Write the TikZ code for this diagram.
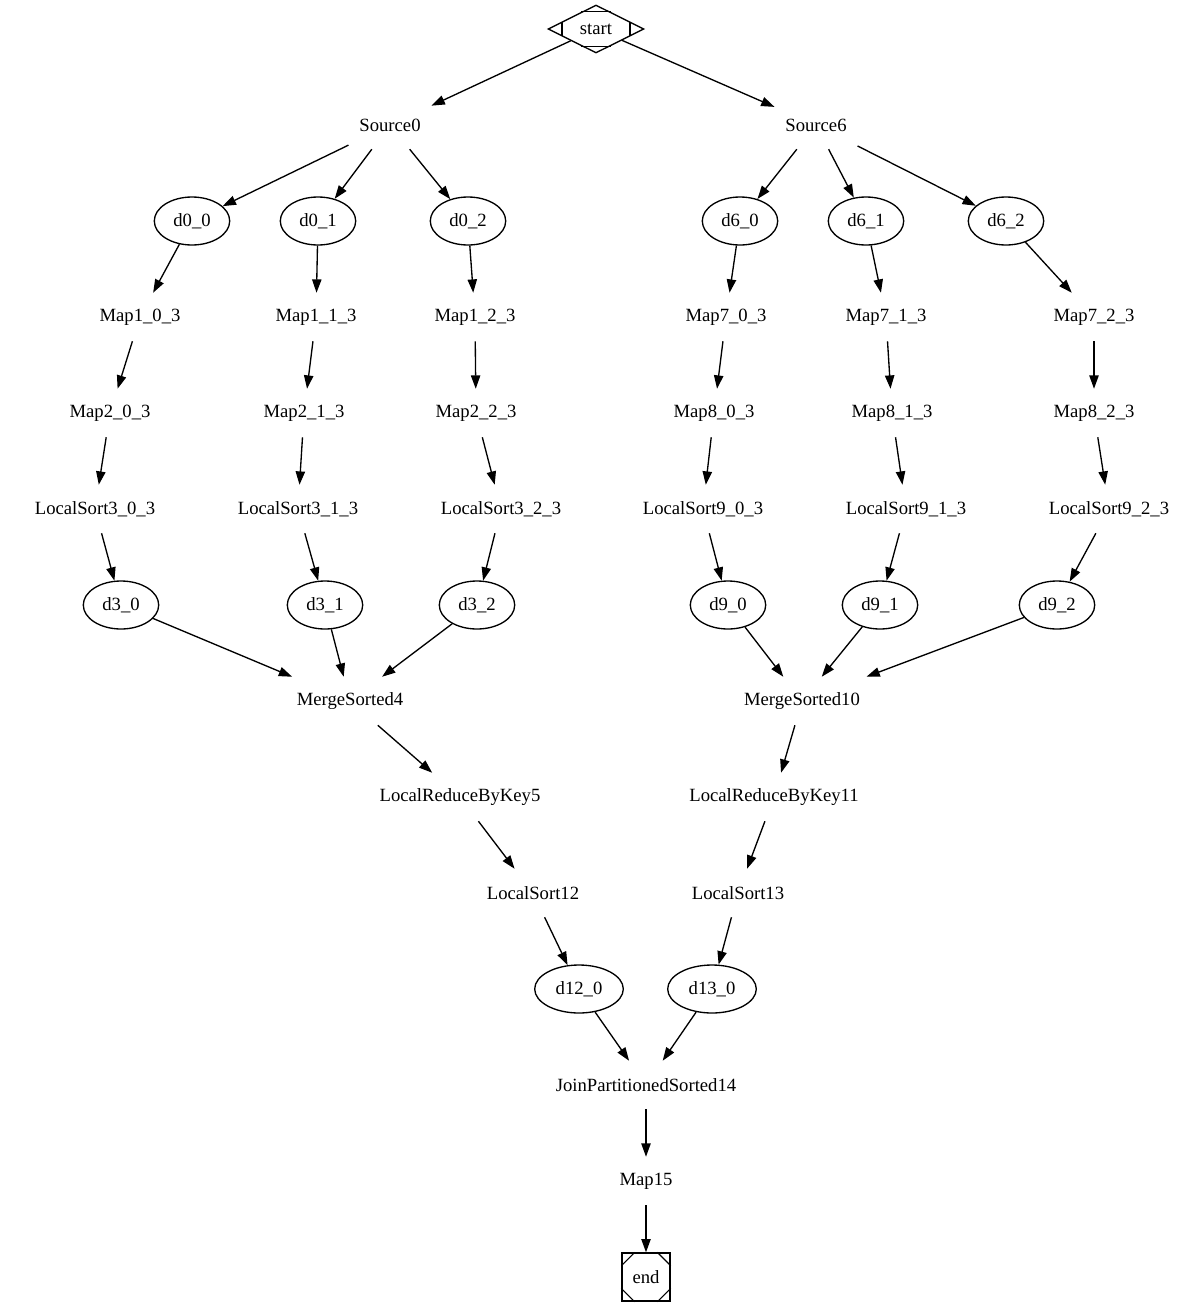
\documentclass[tikz,border=0pt]{standalone}
\usepackage{fontspec}
\setmainfont{Liberation Serif}
\usepackage{tikz}
\usetikzlibrary{shapes.geometric, arrows.meta, calc}

\begin{document}
\begin{tikzpicture}[
  x=0.75pt, y=-0.75pt,
  every node/.style={font=\fontsize{14pt}{16pt}\selectfont},
  task/.style={rectangle, minimum width=54pt, minimum height=36pt,
               inner xsep=8pt, inner ysep=4pt},
  data/.style={ellipse, draw, line width=1pt, minimum width=54pt,
               minimum height=36pt, inner xsep=6pt, inner ysep=2pt},
  startnode/.style={diamond, draw, line width=1pt, aspect=2, inner sep=1pt,
                    minimum width=72pt, minimum height=36pt},
  stopnode/.style={rectangle, draw, line width=1pt, inner sep=0pt,
                   minimum size=36pt},
  arrow/.style={->, line width=1pt, >={Triangle[length=10pt, width=7pt]}}
]
\useasboundingbox (0,0) rectangle (1203,1307);

%% ---- TOP ----
\node[startnode] at (596,29)  (start) {start};
\node[task] at (390,125) (src0) {Source0};
\node[task] at (816,125) (src6) {Source6};

%% ---- LEFT BRANCH ----
\node[data] at (192,221) (d00) {d0\_0};
\node[data] at (318,221) (d01) {d0\_1};
\node[data] at (468,221) (d02) {d0\_2};
\node[task] at (140,317) (map10) {Map1\_0\_3};
\node[task] at (316,317) (map11) {Map1\_1\_3};
\node[task] at (475,317) (map12) {Map1\_2\_3};
\node[task] at (110,413) (map20) {Map2\_0\_3};
\node[task] at (304,413) (map21) {Map2\_1\_3};
\node[task] at (476,413) (map22) {Map2\_2\_3};
\node[task] at (95,509)  (ls30)  {LocalSort3\_0\_3};
\node[task] at (298,509) (ls31)  {LocalSort3\_1\_3};
\node[task] at (501,509) (ls32)  {LocalSort3\_2\_3};
\node[data] at (121,605) (d30) {d3\_0};
\node[data] at (325,605) (d31) {d3\_1};
\node[data] at (477,605) (d32) {d3\_2};
\node[task] at (350,701) (ms4)  {MergeSorted4};
\node[task] at (460,797) (lr5)  {LocalReduceByKey5};
\node[task] at (533,893) (ls12) {LocalSort12};
\node[data] at (579,989) (d120) {d12\_0};

%% ---- RIGHT BRANCH ----
\node[data] at (740,221)  (d60) {d6\_0};
\node[data] at (866,221)  (d61) {d6\_1};
\node[data] at (1006,221) (d62) {d6\_2};
\node[task] at (726,317)  (map70) {Map7\_0\_3};
\node[task] at (886,317)  (map71) {Map7\_1\_3};
\node[task] at (1094,317) (map72) {Map7\_2\_3};
\node[task] at (714,413)  (map80) {Map8\_0\_3};
\node[task] at (892,413)  (map81) {Map8\_1\_3};
\node[task] at (1094,413) (map82) {Map8\_2\_3};
\node[task] at (703,509)  (ls90)  {LocalSort9\_0\_3};
\node[task] at (906,509)  (ls91)  {LocalSort9\_1\_3};
\node[task] at (1109,509) (ls92)  {LocalSort9\_2\_3};
\node[data] at (728,605)  (d90) {d9\_0};
\node[data] at (880,605)  (d91) {d9\_1};
\node[data] at (1057,605) (d92) {d9\_2};
\node[task] at (802,701) (ms10) {MergeSorted10};
\node[task] at (774,797) (lr11) {LocalReduceByKey11};
\node[task] at (738,893) (ls13) {LocalSort13};
\node[data] at (712,989) (d130) {d13\_0};

%% ---- BOTTOM ----
\node[task] at (646,1085) (join)  {JoinPartitionedSorted14};
\node[task] at (646,1181) (map15) {Map15};
\node[stopnode] at (646,1277) (stop) {end};

%% ---- Shape marks (Mdiamond / Msquare) ----
\draw[line width=1pt] ($(start.west)!0.3!(start.north)$) -- ($(start.west)!0.3!(start.south)$);
\draw[line width=1pt] ($(start.east)!0.3!(start.north)$) -- ($(start.east)!0.3!(start.south)$);
\draw[line width=1pt] ($(start.north)!0.3!(start.west)$) -- ($(start.north)!0.3!(start.east)$);
\draw[line width=1pt] ($(start.south)!0.3!(start.west)$) -- ($(start.south)!0.3!(start.east)$);
\draw[line width=0.8pt] ($(stop.north west)!0.27!(stop.south west)$) -- ($(stop.north west)!0.27!(stop.north east)$);
\draw[line width=0.8pt] ($(stop.north east)!0.27!(stop.south east)$) -- ($(stop.north east)!0.27!(stop.north west)$);
\draw[line width=0.8pt] ($(stop.south west)!0.27!(stop.north west)$) -- ($(stop.south west)!0.27!(stop.south east)$);
\draw[line width=0.8pt] ($(stop.south east)!0.27!(stop.north east)$) -- ($(stop.south east)!0.27!(stop.south west)$);

%% ---- Arrows ----
\draw[arrow] (start) -- (src0);
\draw[arrow] (start) -- (src6);

\draw[arrow] (src0) -- (d00);
\draw[arrow] (src0) -- (d01);
\draw[arrow] (src0) -- (d02);
\draw[arrow] (d00)   -- (map10);
\draw[arrow] (d01)   -- (map11);
\draw[arrow] (d02)   -- (map12);
\draw[arrow] (map10) -- (map20);
\draw[arrow] (map11) -- (map21);
\draw[arrow] (map12) -- (map22);
\draw[arrow] (map20) -- (ls30);
\draw[arrow] (map21) -- (ls31);
\draw[arrow] (map22) -- (ls32);
\draw[arrow] (ls30)  -- (d30);
\draw[arrow] (ls31)  -- (d31);
\draw[arrow] (ls32)  -- (d32);
\draw[arrow] (d30)   -- (ms4);
\draw[arrow] (d31)   -- (ms4);
\draw[arrow] (d32)   -- (ms4);
\draw[arrow] (ms4)   -- (lr5);
\draw[arrow] (lr5)   -- (ls12);
\draw[arrow] (ls12)  -- (d120);
\draw[arrow] (d120)  -- (join);

\draw[arrow] (src6) -- (d60);
\draw[arrow] (src6) -- (d61);
\draw[arrow] (src6) -- (d62);
\draw[arrow] (d60)   -- (map70);
\draw[arrow] (d61)   -- (map71);
\draw[arrow] (d62)   -- (map72);
\draw[arrow] (map70) -- (map80);
\draw[arrow] (map71) -- (map81);
\draw[arrow] (map72) -- (map82);
\draw[arrow] (map80) -- (ls90);
\draw[arrow] (map81) -- (ls91);
\draw[arrow] (map82) -- (ls92);
\draw[arrow] (ls90)  -- (d90);
\draw[arrow] (ls91)  -- (d91);
\draw[arrow] (ls92)  -- (d92);
\draw[arrow] (d90)   -- (ms10);
\draw[arrow] (d91)   -- (ms10);
\draw[arrow] (d92)   -- (ms10);
\draw[arrow] (ms10)  -- (lr11);
\draw[arrow] (lr11)  -- (ls13);
\draw[arrow] (ls13)  -- (d130);
\draw[arrow] (d130)  -- (join);

\draw[arrow] (join)  -- (map15);
\draw[arrow] (map15) -- (stop);
\end{tikzpicture}
\end{document}
